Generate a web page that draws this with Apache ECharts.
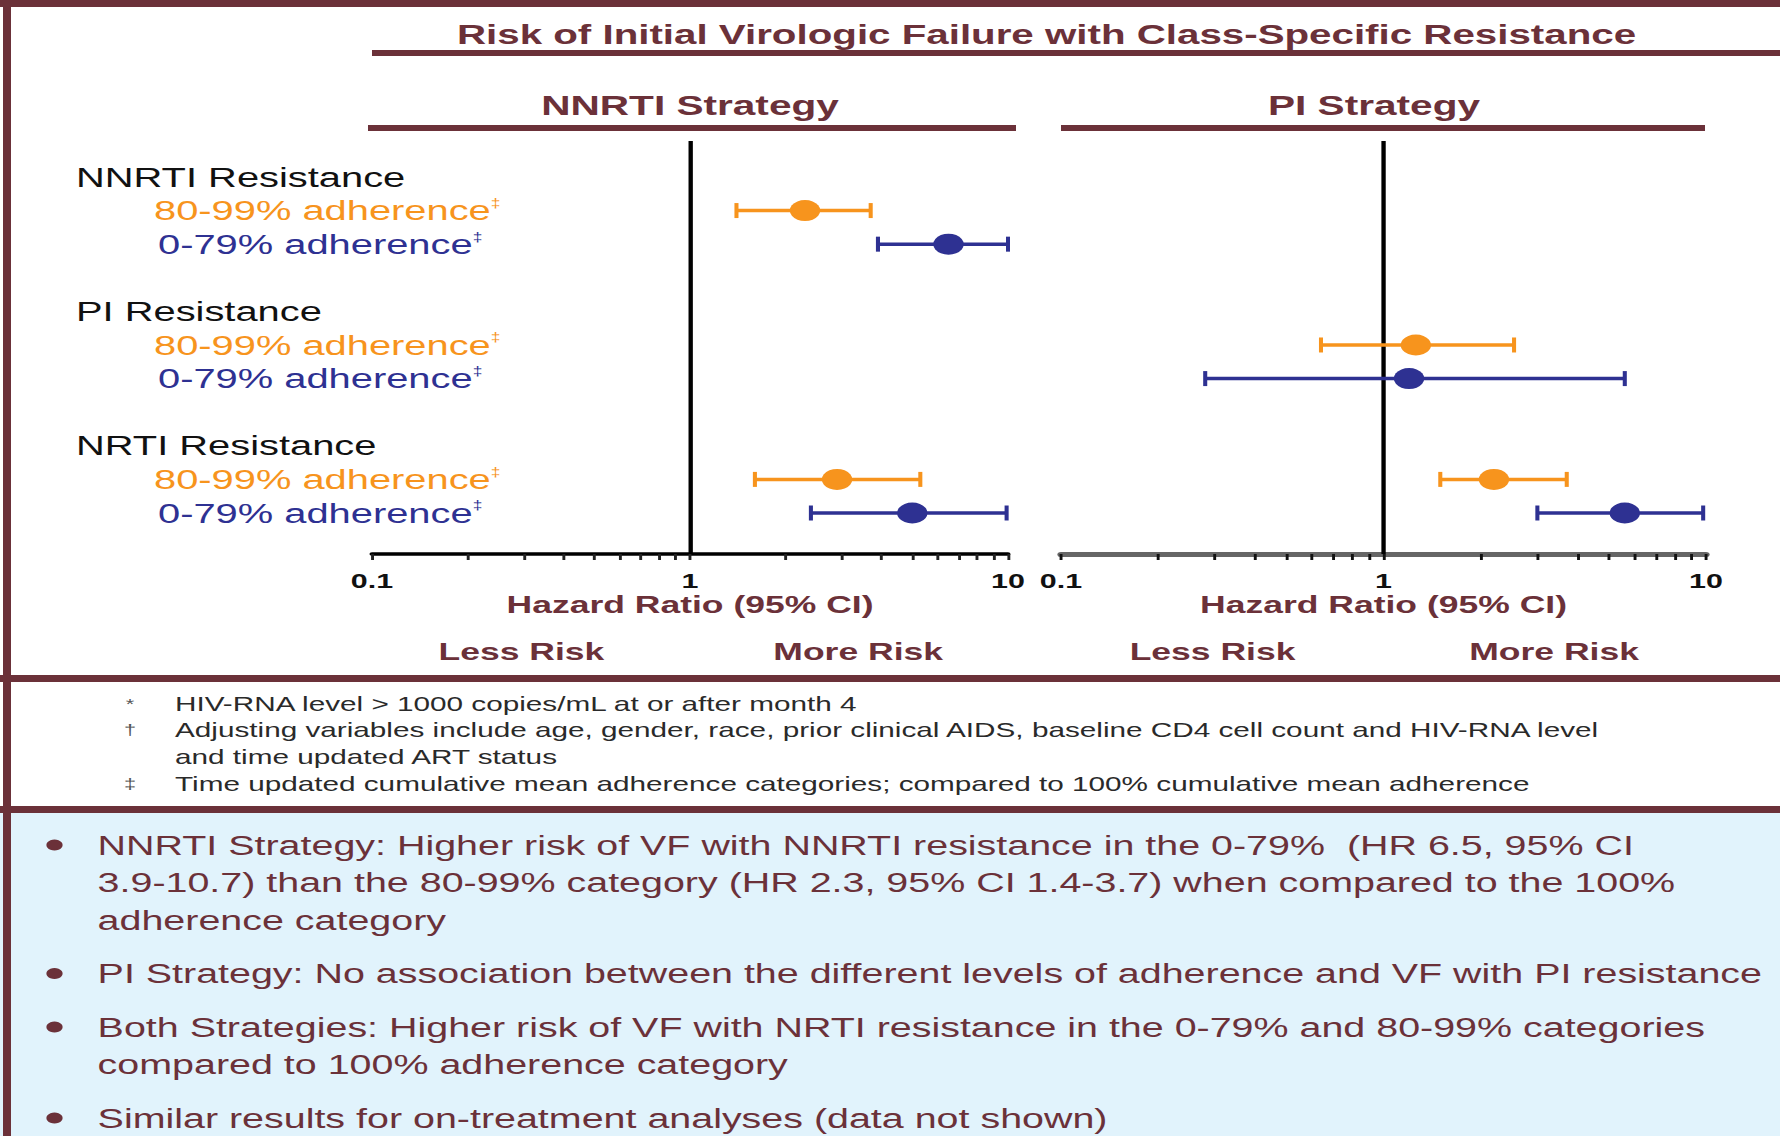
<!DOCTYPE html>
<html>
<head>
<meta charset="utf-8">
<title>Risk of Initial Virologic Failure with Class-Specific Resistance</title>
<script src="https://cdn.jsdelivr.net/npm/echarts@6/dist/echarts.min.js"></script>
<style>
  html, body { margin: 0; padding: 0; background: #fff; overflow: hidden; }
  /* the slide is laid out on a narrower canvas and widened to the page */
  #stage { position: absolute; left: 0; top: 0; width: 1228px; height: 1136px;
           transform-origin: 0 0; transform: scaleX(1.44951); }
</style>
</head>
<body>
<div id="stage"></div>
<script>
// ---------------- data ----------------
const groups = ['NNRTI Resistance', 'PI Resistance', 'NRTI Resistance'];
const levels = ['80-99% adherence', '0-79% adherence'];

// hazard ratios with 95% CI, ordered group by group, 80-99% then 0-79% (null = not estimated)
const nnrtiHR    = [2.3, 6.5,  null, null, 2.9, 5.0];
const nnrtiLower = [1.4, 3.9,  null, null, 1.6, 2.4];
const nnrtiUpper = [3.7, 10.7, null, null, 5.3, 9.9];

const piHR    = [null, null, 1.26, 1.2, 2.2, 5.6];
const piLower = [null, null, 0.64, 0.28, 1.5, 3.0];
const piUpper = [null, null, 2.54, 5.6, 3.7, 9.8];

const noEffect = 1;
const xLabelValues = [0.1, 1, 10];
const xTickValues = [0.1, 0.2, 0.3, 0.4, 0.5, 0.6, 0.7, 0.8, 0.9,
                     1, 2, 3, 4, 5, 6, 7, 8, 9, 10];

const mainTitle = 'Risk of Initial Virologic Failure with Class-Specific Resistance';
const panelTitles = ['NNRTI Strategy', 'PI Strategy'];
const axisTitle = 'Hazard Ratio (95% CI)';
const directionLabels = ['Less Risk', 'More Risk'];

const footnoteMarks = ['*', '\u2020', '', '\u2021'];
const footnoteLines = [
  'HIV-RNA level > 1000 copies/mL at or after month 4',
  'Adjusting variables include age, gender, race, prior clinical AIDS, baseline CD4 cell count and HIV-RNA level',
  'and time updated ART status',
  'Time updated cumulative mean adherence categories; compared to 100% cumulative mean adherence'
];

const bullets = [
  ['NNRTI Strategy: Higher risk of VF with NNRTI resistance in the 0-79%  (HR 6.5, 95% CI',
   '3.9-10.7) than the 80-99% category (HR 2.3, 95% CI 1.4-3.7) when compared to the 100%',
   'adherence category'],
  ['PI Strategy: No association between the different levels of adherence and VF with PI resistance'],
  ['Both Strategies: Higher risk of VF with NRTI resistance in the 0-79% and 80-99% categories',
   'compared to 100% adherence category'],
  ['Similar results for on-treatment analyses (data not shown)']
];

// ---------------- styling ----------------
const STRETCH = 1780 / 1228;          // horizontal widening applied by the stage
const px = v => v / STRETCH;          // page x -> canvas x
const FONT = '"Liberation Sans", Arial, Helvetica, sans-serif';
const MAROON = '#6B3139';
const ORANGE = '#F7941D';
const NAVY = '#2E3192';
const levelColors = [ORANGE, NAVY];
const W = 1228, H = 1136;

const plotTop = 141, plotHeight = 413;
const grids = [
  { left: px(372),  top: plotTop, width: px(636), height: plotHeight },
  { left: px(1061), top: plotTop, width: px(645), height: plotHeight }
];

// row index on the y scale: group header, then its two adherence levels, then a gap
const rowOf = i => Math.floor(i / 2) * 4 + 1 + (i % 2);
const labelRows = [0, 1, 2, 4, 5, 6, 8, 9, 10];

function buildData(hr, lo, hi) {
  const out = [];
  hr.forEach((v, i) => {
    if (v == null) return;
    out.push([rowOf(i), v, lo[i], hi[i], i % 2]);
  });
  return out;
}

function renderCI(params, api) {
  const row = api.value(0);
  const color = levelColors[api.value(4)];
  const cs = params.coordSys;
  const pHr = api.coord([api.value(1), row]);
  const pLo = api.coord([api.value(2), row]);
  const pHi = api.coord([api.value(3), row]);
  const x0 = Math.max(pLo[0], cs.x);
  const x1 = Math.min(pHi[0], cs.x + cs.width);
  const y = pHr[1];
  const cap = 7.5;
  return {
    type: 'group',
    children: [
      { type: 'line', shape: { x1: x0, y1: y, x2: x1, y2: y }, style: { stroke: color, lineWidth: 3.5 } },
      { type: 'line', shape: { x1: x0, y1: y - cap, x2: x0, y2: y + cap }, style: { stroke: color, lineWidth: 2.8 } },
      { type: 'line', shape: { x1: x1, y1: y - cap, x2: x1, y2: y + cap }, style: { stroke: color, lineWidth: 2.8 } },
      { type: 'circle', shape: { cx: pHr[0], cy: y, r: 10.5 }, style: { fill: color } }
    ]
  };
}

function xAxisFor(i, lineColor, lineWidth, tickColor) {
  return {
    type: 'log', logBase: 10, gridIndex: i, min: 0.1, max: 10,
    axisLine: { show: true, onZero: false, lineStyle: { color: lineColor, width: lineWidth } },
    axisTick: { show: true, customValues: xTickValues, length: 6, lineStyle: { color: tickColor, width: 2 } },
    minorTick: { show: false },
    splitLine: { show: false },
    axisLabel: {
      customValues: xLabelValues, margin: 16,
      formatter: v => String(v),
      fontFamily: FONT, fontSize: 21, fontWeight: 'bold', color: '#111'
    },
    name: axisTitle, nameLocation: 'middle', nameGap: 38, nameMoveOverlap: false,
    nameTextStyle: { fontFamily: FONT, fontSize: 24.5, fontWeight: 'bold', color: MAROON }
  };
}

function yAxisFor(i, withLabels) {
  return {
    type: 'value', gridIndex: i, inverse: true, min: -1.07, max: 11.22,
    axisLine: { show: false }, axisTick: { show: false }, splitLine: { show: false },
    axisLabel: withLabels ? {
      show: true, customValues: labelRows, align: 'left', margin: px(372) - px(76),
      formatter: v => {
        const g = Math.floor(v / 4), k = v % 4;
        if (k === 0) return '{head|' + groups[g] + '}';
        const t = k === 1 ? 'a' : 'b';
        return '{lv' + t + '|' + levels[k - 1] + '}{sup' + t + '|\u2021}';
      },
      rich: {
        head: { fontFamily: FONT, fontSize: 27.5, color: '#111' },
        lva: { fontFamily: FONT, fontSize: 27.5, color: ORANGE, padding: [0, 0, 0, px(78)] },
        lvb: { fontFamily: FONT, fontSize: 27.5, color: NAVY, padding: [0, 0, 0, px(82)] },
        supa: { fontFamily: FONT, fontSize: 12, color: ORANGE, verticalAlign: 'top' },
        supb: { fontFamily: FONT, fontSize: 12, color: NAVY, verticalAlign: 'top' }
      }
    } : { show: false }
  };
}

function ciSeries(i, hr, lo, hi) {
  return {
    type: 'custom', xAxisIndex: i, yAxisIndex: i,
    encode: { x: [1, 2, 3], y: 0 },
    data: buildData(hr, lo, hi),
    renderItem: renderCI,
    silent: true, z: 5
  };
}

function refLine(i) {
  return {
    type: 'line', xAxisIndex: i, yAxisIndex: i, data: [], silent: true,
    markLine: {
      silent: true, symbol: 'none', animation: false,
      label: { show: false },
      lineStyle: { color: '#000', width: 3, type: 'solid' },
      data: [{ xAxis: noEffect }]
    }
  };
}

const chart = echarts.init(document.getElementById('stage'), null, { renderer: 'svg', width: W, height: H });

chart.setOption({
  animation: false,
  backgroundColor: '#fff',
  grid: grids.map(g => Object.assign({ containLabel: false, outerBoundsMode: 'none' }, g)),
  xAxis: [xAxisFor(0, '#000', 3.5, '#222'), xAxisFor(1, '#666', 5, '#111')],
  yAxis: [yAxisFor(0, true), yAxisFor(1, false)],
  series: [
    refLine(0), refLine(1),
    ciSeries(0, nnrtiHR, nnrtiLower, nnrtiUpper),
    ciSeries(1, piHR, piLower, piUpper)
  ]
});

// ---------------- slide furniture ----------------
function text(x, y, str, size, color, weight, align) {
  return {
    type: 'text', x: x, y: y, silent: true, z: 10,
    style: {
      text: str, fill: color, font: (weight || 'normal') + ' ' + size + 'px ' + FONT,
      textAlign: align || 'left', textVerticalAlign: 'middle'
    }
  };
}
function bar(x, y, w, h, color) {
  return { type: 'rect', silent: true, z: 8, shape: { x: x, y: y, width: w, height: h }, style: { fill: color } };
}

const els = [];
// light blue summary panel
els.push(Object.assign(bar(0, 813, W, H - 813, '#E1F3FC'), { z: 1 }));
// frame and separators
els.push(bar(0, 0, W, 7, MAROON));
els.push(bar(0, 675, W, 7, MAROON));
els.push(bar(0, 806, W, 7, MAROON));
els.push(bar(px(3), 0, px(8), H, MAROON));

// headings and their rules
els.push(text(px(1046.5), 34, mainTitle, 27.8, MAROON, 'bold', 'center'));
els.push(bar(px(372), 50, W - px(372), 6, MAROON));
els.push(text(px(690), 105, panelTitles[0], 28, MAROON, 'bold', 'center'));
els.push(bar(px(368), 125, px(648), 6, MAROON));
els.push(text(px(1374), 105, panelTitles[1], 28, MAROON, 'bold', 'center'));
els.push(bar(px(1061), 125, px(644), 6, MAROON));

// direction labels either side of HR = 1
[0, 1].forEach(i => {
  const lx = chart.convertToPixel({ xAxisIndex: i }, 0.295);
  const rx = chart.convertToPixel({ xAxisIndex: i }, 3.38);
  els.push(text(lx, 651, directionLabels[0], 24.5, MAROON, 'bold', 'center'));
  els.push(text(rx, 651, directionLabels[1], 24.5, MAROON, 'bold', 'center'));
});

// footnotes
const footY = [704, 730, 757, 784];
footnoteLines.forEach((line, i) => {
  if (footnoteMarks[i]) els.push(text(px(130), footY[i], footnoteMarks[i], 15, '#555', 'normal', 'center'));
  els.push(text(px(175), footY[i], line, 20.5, '#2a2a2a'));
});

// summary bullets
let by = 845;
bullets.forEach((lines, b) => {
  els.push({ type: 'circle', silent: true, z: 10, shape: { cx: px(54.5), cy: by, r: 5.6 }, style: { fill: MAROON } });
  lines.forEach((line, j) => {
    els.push(text(px(97.6), by, line, 27.2, MAROON));
    if (j < lines.length - 1) by += 37.5;
  });
  by += 53.5;
});

chart.setOption({ graphic: { elements: els } });
</script>
</body>
</html>
